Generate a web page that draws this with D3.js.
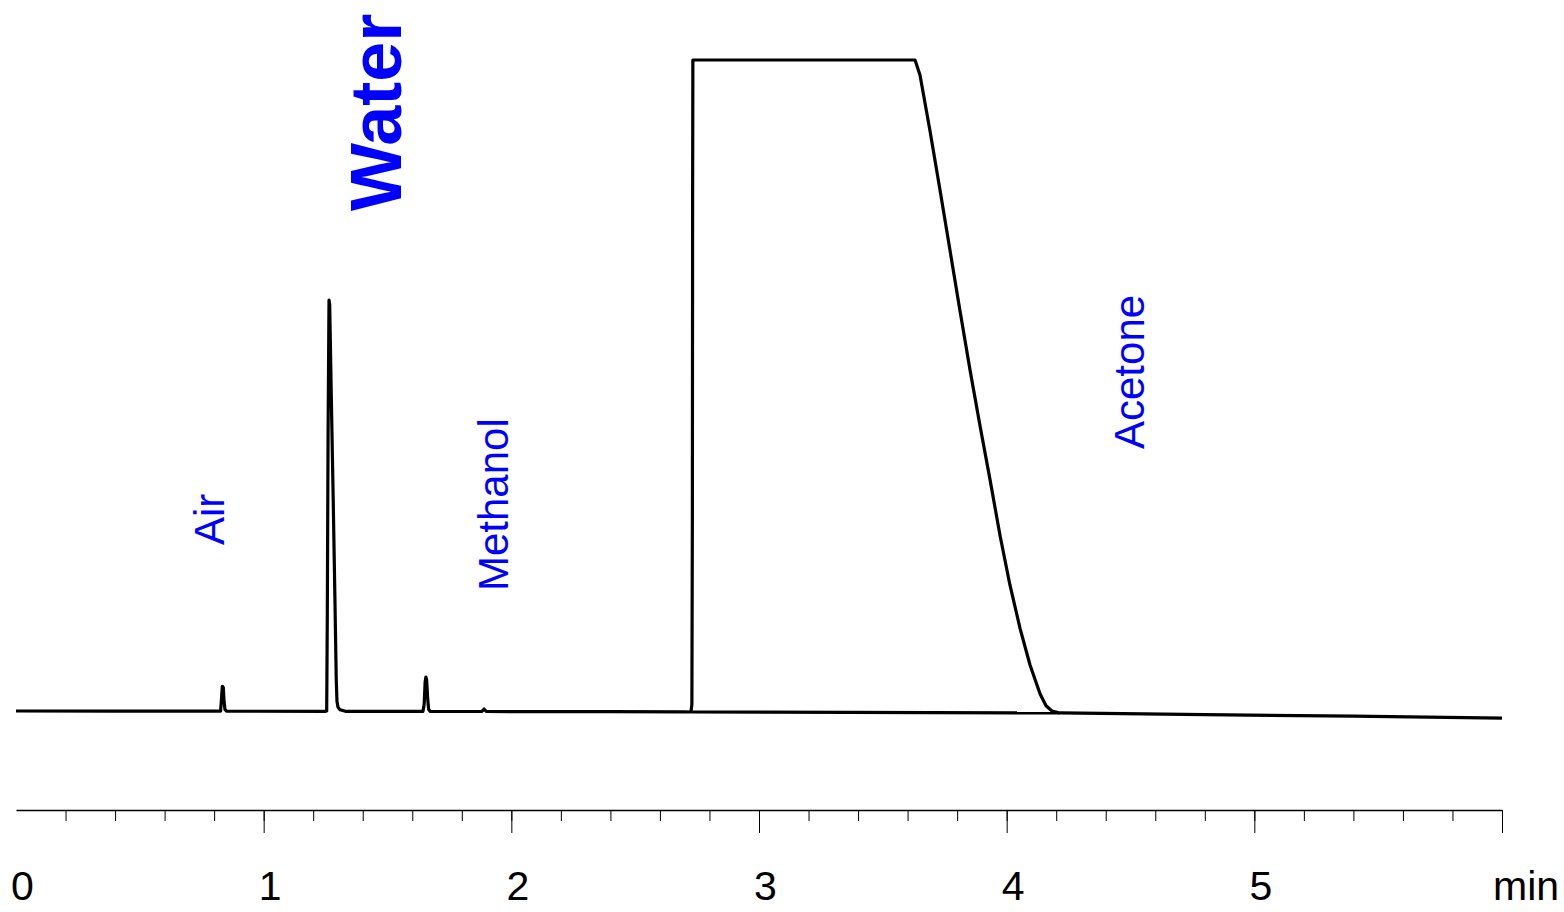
<!DOCTYPE html>
<html>
<head>
<meta charset="utf-8">
<script src="https://cdn.jsdelivr.net/npm/d3@7"></script>
<style>
  html, body { margin: 0; padding: 0; background: #fff; }
  svg { display: block; }
</style>
</head>
<body>
<svg id="chart" width="1564" height="912"></svg>
<script>
// ---- Data ----
const timeMin = [
  0.000, 0.400, 0.820, 0.826, 0.830, 0.833, 0.837, 0.840, 0.844, 0.850,
  1.250, 1.2545, 1.257, 1.260, 1.2638, 1.2665, 1.2737, 1.2808, 1.2878, 1.2930, 1.2960, 1.300, 1.308, 1.330,
  1.643, 1.648, 1.652, 1.655, 1.658, 1.662, 1.666, 1.672,
  1.880, 1.890, 1.900,
  2.400, 2.700, 2.725, 2.729, 2.731, 2.732, 2.733,
  3.630, 3.650, 3.690, 3.731, 3.771, 3.811, 3.852, 3.892, 3.933, 3.973, 4.013, 4.054, 4.094, 4.135, 4.159, 4.183, 4.215,
  4.800, 5.400, 6.000
];
const signalMv = [
  0.0, -0.2, -0.3, -0.3, 20, 38, 36, 15, 2, -0.3,
  -0.5, 0, 150, 420, 631, 625, 470, 324, 170, 50, 15, 6, 2, -0.5,
  -0.7, 10, 45, 52, 48, 20, 3, -0.7,
  -0.8, 3, -0.8,
  -1.1, -1.4, -1.5, 10, 300, 800, 1000,
  1000, 977, 892, 800, 708, 616, 524, 439, 355, 270, 194, 127, 71, 26, 8, 0, -3,
  -5.5, -8, -11
];
// drawn baseline under the large peak
const baseTime = [2.729, 4.215];
const baseSignal = [-1.5, -3];

const majorTicks = [0, 1, 2, 3, 4, 5, 6];
const tickLabels = ["0", "1", "2", "3", "4", "5", ""];
const minorTicks = d3.range(1, 30, 1).map(d => d / 5);
const axisUnit = "min";

const peakNames = ["Air", "Water", "Methanol", "Acetone"];
const peakLabelTime = [0.84, 1.555, 1.985, 4.555];
const peakLabelStartY = [545, 211, 591, 449];
const peakLabelBold = [false, true, false, false];
const peakLabelSize = [42, 72, 42, 42];

// ---- Scales ----
const svg = d3.select("#chart");
const x = d3.scaleLinear().domain([0, 6]).range([16, 1502]);
const y = d3.scaleLinear().domain([0, 1000]).range([711, 60]);

const font = "'Liberation Sans', Arial, Helvetica, sans-serif";

// ---- Trace ----
const pts = timeMin.map((t, i) => [t, signalMv[i]]);
const line = d3.line().x(d => x(d[0])).y(d => y(d[1]));
svg.append("path")
  .attr("d", line(pts))
  .attr("fill", "none")
  .attr("stroke", "#000")
  .attr("stroke-width", 3.2)
  .attr("stroke-linejoin", "round");

svg.append("path")
  .attr("d", line(baseTime.map((t, i) => [t, baseSignal[i]])))
  .attr("fill", "none")
  .attr("stroke", "#000")
  .attr("stroke-width", 3.2);

// ---- Axis ----
const axisY = 810;
const minorAxis = d3.axisBottom(x).tickValues(minorTicks).tickSize(11).tickSizeOuter(0).tickFormat("");
const gMinor = svg.append("g").attr("transform", `translate(0,${axisY})`).call(minorAxis);
gMinor.select(".domain").attr("stroke", "#000").attr("stroke-width", 1.5);
gMinor.selectAll(".tick line").attr("stroke", "#000").attr("stroke-width", 1);

const majorAxis = d3.axisBottom(x).tickValues(majorTicks).tickSize(23).tickSizeOuter(0)
  .tickPadding(38).tickFormat((d, i) => tickLabels[i]);
const gMajor = svg.append("g").attr("transform", `translate(0,${axisY})`).call(majorAxis);
gMajor.select(".domain").remove();
gMajor.selectAll(".tick line")
  .attr("stroke", d => d === 0 ? "none" : "#000")
  .attr("stroke-width", 1);
gMajor.selectAll(".tick text")
  .attr("font-family", font)
  .attr("font-size", 41)
  .attr("fill", "#000")
  .attr("dx", 6)
  .attr("dy", null)
  .attr("y", 90);

svg.append("text")
  .attr("x", 1493)
  .attr("y", 900)
  .attr("font-family", font)
  .attr("font-size", 41)
  .attr("fill", "#000")
  .text(axisUnit);

// ---- Peak labels (rotated) ----
peakNames.forEach((name, i) => {
  const px = x(peakLabelTime[i]);
  const py = peakLabelStartY[i];
  svg.append("text")
    .attr("transform", `translate(${px},${py}) rotate(-90)`)
    .attr("font-family", font)
    .attr("font-size", peakLabelSize[i])
    .attr("font-weight", peakLabelBold[i] ? "bold" : "normal")
    .attr("fill", "#0000ff")
    .text(name);
});
</script>
</body>
</html>
